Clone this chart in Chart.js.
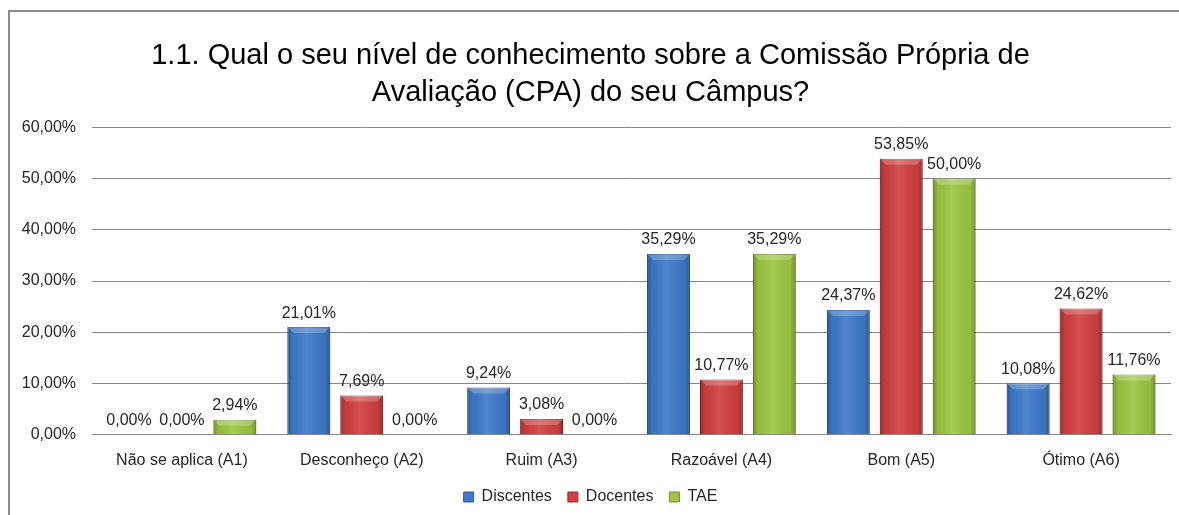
<!DOCTYPE html>
<html>
<head>
<meta charset="utf-8">
<script src="https://cdn.jsdelivr.net/npm/chart.js@4.4.1/dist/chart.umd.min.js"></script>
<style>
  html, body { margin: 0; padding: 0; background: #fff; }
  #wrap { position: relative; width: 1179px; height: 515px; overflow: hidden; }
  #frame { position: absolute; left: 8px; top: 10px; right: -4px; bottom: -4px;
           border-top: 2px solid #8c8c8c; border-left: 2px solid #8c8c8c; }
  #box { position: absolute; left: 0; top: 0; width: 1179px; height: 515px; }
</style>
</head>
<body>
<div id="wrap">
  <div id="frame"></div>
  <div id="box"><canvas id="grafico"></canvas></div>
</div>
<script>
// ================= DADOS =================
const categorias = ["Não se aplica (A1)", "Desconheço (A2)", "Ruim (A3)", "Razoável (A4)", "Bom (A5)", "Ótimo (A6)"];
const discentes = [0.00, 21.01, 9.24, 35.29, 24.37, 10.08];
const docentes  = [0.00, 7.69, 3.08, 10.77, 53.85, 24.62];
const tae       = [2.94, 0.00, 0.00, 35.29, 50.00, 11.76];
const tituloLinhas = ["1.1. Qual o seu nível de conhecimento sobre a Comissão Própria de", "Avaliação (CPA) do seu Câmpus?"];

// ================= FORMAT =================
function pct(v) {
    return v.toFixed(2).replace(".", ",") + "%";
}

const fonte = "'Liberation Sans', Arial, sans-serif";

// rótulos em cima das barras + efeito de brilho tipo Excel
const barrasExcel = {
    id: "barrasExcel",
    afterDatasetsDraw(chart) {
        const ctx = chart.ctx;
        chart.data.datasets.forEach((ds, i) => {
            const meta = chart.getDatasetMeta(i);
            meta.data.forEach((bar, j) => {
                const w = bar.width;
                const left = bar.x - w / 2;
                const top = Math.min(bar.y, bar.base);
                const h = Math.abs(bar.base - bar.y);
                if (h > 1) {
                    ctx.save();
                    const g = ctx.createLinearGradient(left, 0, left + w, 0);
                    g.addColorStop(0, "rgba(0,0,0,0.28)");
                    g.addColorStop(0.12, "rgba(0,0,0,0.05)");
                    g.addColorStop(0.45, "rgba(255,255,255,0.10)");
                    g.addColorStop(0.88, "rgba(0,0,0,0.05)");
                    g.addColorStop(1, "rgba(0,0,0,0.28)");
                    ctx.fillStyle = g;
                    ctx.fillRect(left, top, w, h);
                    // bisel no topo
                    const bh = Math.min(6, h);
                    ctx.fillStyle = "rgba(255,255,255,0.22)";
                    ctx.beginPath();
                    ctx.moveTo(left, top);
                    ctx.lineTo(left + w, top);
                    ctx.lineTo(left + w - 6, top + bh);
                    ctx.lineTo(left + 6, top + bh);
                    ctx.closePath();
                    ctx.fill();
                    ctx.restore();
                }
                ctx.save();
                ctx.fillStyle = "#262626";
                ctx.font = "16px " + fonte;
                ctx.textAlign = "center";
                ctx.textBaseline = "bottom";
                ctx.fillText(pct(ds.data[j]), bar.x, top - 6);
                ctx.restore();
            });
        });
    }
};

const chart = new Chart(document.getElementById("grafico"), {
    type: "bar",
    data: {
        labels: categorias,
        datasets: [
            { label: "Discentes", data: discentes, backgroundColor: "#3d79c9", borderColor: "#2c5b9a", borderWidth: 1 },
            { label: "Docentes", data: docentes, backgroundColor: "#d13f3f", borderColor: "#9e2a2a", borderWidth: 1 },
            { label: "TAE", data: tae, backgroundColor: "#9cc641", borderColor: "#6f9526", borderWidth: 1 }
        ]
    },
    options: {
        responsive: true,
        maintainAspectRatio: false,
        animation: false,
        categoryPercentage: 0.883,
        barPercentage: 0.81,
        layout: { padding: { left: 10, right: 8, top: 0, bottom: 0 } },
        plugins: {
            title: {
                display: true,
                text: tituloLinhas,
                color: "#000",
                font: { family: fonte, size: 29, weight: "normal", lineHeight: 1.28 },
                padding: { top: 37, bottom: 16 }
            },
            legend: {
                position: "bottom",
                labels: {
                    color: "#262626",
                    font: { family: fonte, size: 16 },
                    boxWidth: 10,
                    boxHeight: 10,
                    padding: 16
                }
            },
            tooltip: { enabled: false }
        },
        scales: {
            x: {
                afterFit: s => { s.height -= 5; },
                grid: { display: false },
                border: { display: true, color: "#868686" },
                ticks: { color: "#262626", font: { family: fonte, size: 16 }, padding: 8, maxRotation: 0 }
            },
            y: {
                min: 0,
                max: 60,
                afterFit: s => { s.width = 82; },
                grid: { color: "#868686", drawTicks: false },
                border: { display: false },
                ticks: {
                    stepSize: 10,
                    padding: 16,
                    color: "#262626",
                    font: { family: fonte, size: 16 },
                    callback: v => pct(v)
                }
            }
        }
    },
    plugins: [barrasExcel]
});
</script>
</body>
</html>
